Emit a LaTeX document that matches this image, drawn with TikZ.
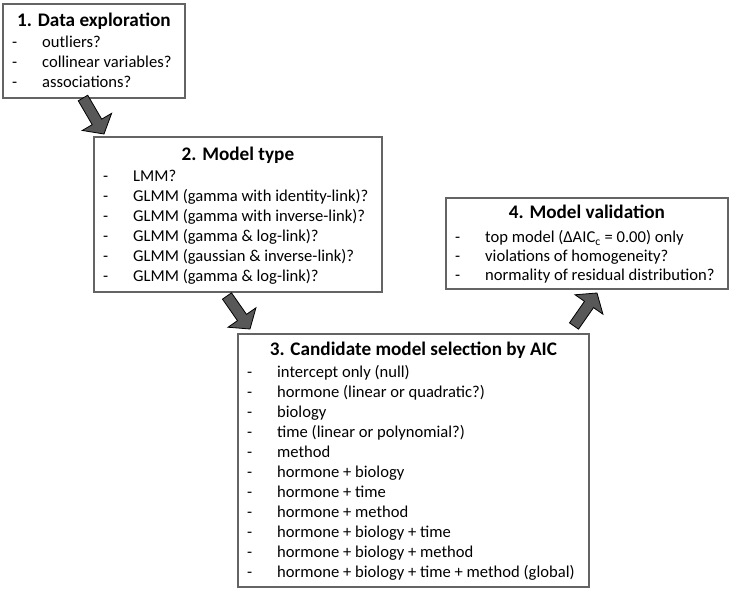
\documentclass[tikz,border=0pt]{standalone}
\usepackage{fontspec}
\setmainfont{Carlito}
\usetikzlibrary{calc}
\definecolor{boxgray}{RGB}{100,100,100}
\definecolor{arrowgray}{RGB}{88,88,88}
% block arrow from tail #1 to tip #2
\newcommand{\bigarrow}[2]{%
	\coordinate (ah) at ($(#2)!14pt!(#1)$);
	\filldraw[arrowbody] ($(#1)!5.5pt!90:(#2)$) -- ($(ah)!5.5pt!-90:(#1)$) -- ($(ah)!17pt!-90:(#1)$) -- (#2)
		-- ($(ah)!17pt!90:(#1)$) -- ($(ah)!5.5pt!90:(#1)$) -- ($(#1)!5.5pt!-90:(#2)$) -- cycle;}

\begin{document}
\begin{tikzpicture}[x=1pt,y=-1pt]
						\tikzstyle{box}=[draw=boxgray,line width=1.8pt,anchor=north west,inner sep=0pt]
						\tikzstyle{heading}=[font=\fontsize{19.2}{22}\selectfont\bfseries,anchor=base,inner sep=0pt]
						\tikzstyle{items}=[font=\fontsize{16.6}{20}\selectfont,anchor=north west,inner sep=0pt]
						\tikzstyle{arrowbody}=[fill=arrowgray,draw=black,line width=0.8pt,line join=miter]
						\useasboundingbox (0,0) rectangle (729,589);
						% boxes
						\node[box,minimum width=182,minimum height=94](explore) at (2,3){};
						\node[box,minimum width=288,minimum height=155](modeltype) at (93,136){};
						\node[box,minimum width=351,minimum height=253](selection) at (237,333){};
						\node[box,minimum width=282,minimum height=91](validation) at (445,197){};
						% headings
						\node[heading](explorehead) at ($(explore.north)+(0,24)$){1. Data exploration};
						\node[heading](typehead) at ($(modeltype.north)+(0,24)$){2. Model type};
						\node[heading](selecthead) at ($(selection.north)+(0,22)$){3. Candidate model selection by AIC};
						\node[heading](validhead) at ($(validation.north)+(0,21)$){4. Model validation};
						% lists
						\node[items](exploreitems) at (12,33){\begin{tabular}{@{}p{30pt}@{}l@{}}
							-&outliers?\\
							-&collinear variables?\\
							-&associations?
						\end{tabular}};
						\node[items](typeitems) at (103,167){\begin{tabular}{@{}p{30pt}@{}l@{}}
							-&LMM?\\
							-&GLMM (gamma with identity-link)?\\
							-&GLMM (gamma with inverse-link)?\\
							-&GLMM (gamma \& log-link)?\\
							-&GLMM (gaussian \& inverse-link)?\\
							-&GLMM (gamma \& log-link)?
						\end{tabular}};
						\node[items](selectitems) at (247,363){\begin{tabular}{@{}p{30pt}@{}l@{}}
							-&intercept only (null)\\
							-&hormone (linear or quadratic?)\\
							-&biology\\
							-&time (linear or polynomial?)\\
							-&method\\
							-&hormone + biology\\
							-&hormone + time\\
							-&hormone + method\\
							-&hormone + biology + time\\
							-&hormone + biology + method\\
							-&hormone + biology + time + method (global)
						\end{tabular}};
						\node[items,font=\fontsize{16.6}{19}\selectfont](validitems) at (455,229){\begin{tabular}{@{}p{30pt}@{}l@{}}
							-&top model (ΔAIC\textsubscript{c} = 0.00) only\\
							-&violations of homogeneity?\\
							-&normality of residual distribution?
						\end{tabular}};
						% arrows
						\coordinate (t1) at (83,98);
						\coordinate (h1) at (104,134);
						\coordinate (t2) at (227,296);
						\coordinate (h2) at (250,329);
						\coordinate (t3) at (574,326);
						\coordinate (h3) at (597,293);
						\bigarrow{t1}{h1}
						\bigarrow{t2}{h2}
						\bigarrow{t3}{h3}
					\end{tikzpicture}
\end{document}
